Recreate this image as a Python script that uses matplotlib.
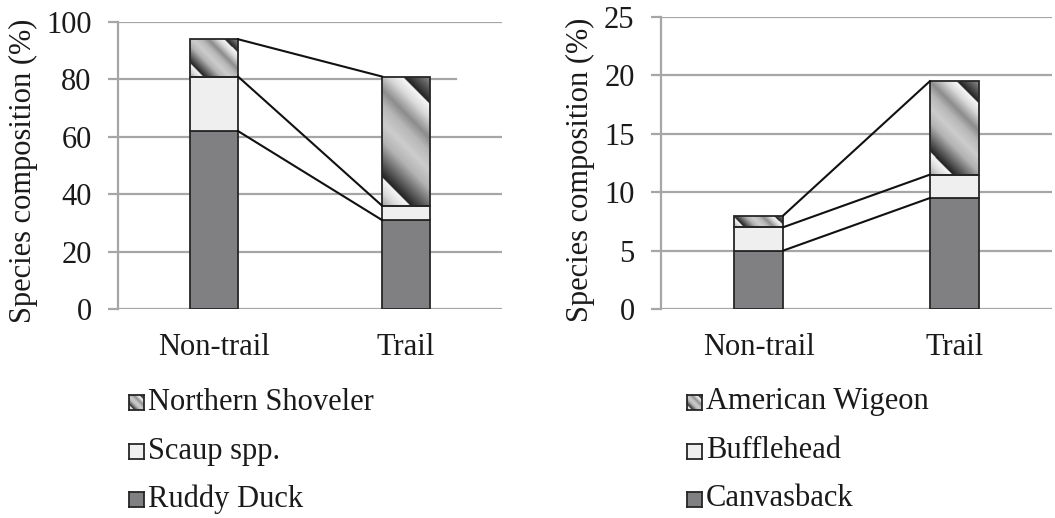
import numpy as np
import matplotlib.pyplot as plt
from matplotlib.patches import Rectangle

plt.rcParams['font.family'] = ['Liberation Serif', 'DejaVu Serif']

# --- dados ---
groups = ['Non-trail', 'Trail']

# painel esquerdo
ruddy_duck = [62, 31]
scaup = [19, 5]
northern_shoveler = [13, 45]

# painel direito
canvasback = [5, 9.5]
bufflehead = [2, 2]
american_wigeon = [1, 8]

left_names = ['Northern Shoveler', 'Scaup spp.', 'Ruddy Duck']
right_names = ['American Wigeon', 'Bufflehead', 'Canvasback']

# --- estilo ---
W, H, DPI = 1055, 518, 100
dark_fill = '#808083'
light_fill = '#efefef'
edge = '#262626'
grid_col = '#a6a6a6'
fs = 22
bar_w = 0.25


def stripe_gray(t):
    # perfil de um período do degradê (começa escuro logo após o salto)
    ts = [0.0, 0.12, 0.3, 0.45, 0.6, 0.72, 0.88, 1.0]
    gs = [0.12, 0.35, 0.7, 0.8, 0.72, 0.55, 0.85, 0.97]
    return np.interp(t, ts, gs)


def stripe_array(w_px, h_px, jump=0.16, period=0.685):
    nx = max(int(w_px * 2), 4)
    ny = max(int(h_px * 2), 4)
    u = np.linspace(0, 1, nx)[None, :]
    v = np.linspace(0, 1, ny)[:, None]
    p = (u * w_px + v * h_px) / (w_px + h_px)
    t = np.mod((p - jump) / period, 1.0)
    return stripe_gray(t)


fig = plt.figure(figsize=(W / DPI, H / DPI), dpi=DPI)


def px_axes(x0, x1, ytop, ybot):
    return fig.add_axes([x0 / W, 1 - ybot / H, (x1 - x0) / W, (ybot - ytop) / H])


def stacked_panel(ax, bottom_vals, mid_vals, top_vals, ymax, ystep, short_grid=None):
    x = np.arange(len(groups))
    ax.set_xlim(-0.5, 1.5)
    ax.set_ylim(0, ymax)

    # linhas de grade horizontais
    for yv in np.arange(0, ymax + ystep / 2, ystep):
        xmax = 1.0
        if short_grid is not None and yv == short_grid[0]:
            xmax = short_grid[1]
        ax.axhline(yv, 0, xmax, color=grid_col, lw=1.6, zorder=0)

    b1 = np.array(bottom_vals, dtype=float)
    b2 = b1 + np.array(mid_vals)
    b3 = b2 + np.array(top_vals)

    ax.bar(x, bottom_vals, bar_w, color=dark_fill, edgecolor=edge, lw=1.3, zorder=3)
    ax.bar(x, mid_vals, bar_w, bottom=b1, color=light_fill, edgecolor=edge, lw=1.3, zorder=3)
    tops = ax.bar(x, top_vals, bar_w, bottom=b2, facecolor='none', edgecolor=edge,
                  lw=1.3, zorder=4)

    # preenchimento em degradê do segmento superior
    for rect in tops:
        x0, y0 = rect.get_x(), rect.get_y()
        x1, y1 = x0 + rect.get_width(), y0 + rect.get_height()
        (px0, py0), (px1, py1) = ax.transData.transform([(x0, y0), (x1, y1)])
        arr = stripe_array(px1 - px0, py1 - py0)
        clip = Rectangle((x0, y0), x1 - x0, y1 - y0, transform=ax.transData)
        im = ax.imshow(arr, extent=(x0, x1, y0, y1), origin='lower', cmap='gray',
                       vmin=0, vmax=1, aspect='auto', interpolation='bilinear', zorder=2)
        im.set_clip_path(clip)

    # linhas de ligação entre as colunas
    for level in (b1, b2, b3):
        ax.plot([x[0] + bar_w / 2, x[1] - bar_w / 2], [level[0], level[1]],
                color='#111111', lw=1.5, zorder=5)

    ax.set_xlim(-0.5, 1.5)
    ax.set_ylim(0, ymax)
    ax.set_yticks(np.arange(0, ymax + ystep / 2, ystep))
    ax.set_yticklabels([f'{int(v)}' for v in np.arange(0, ymax + ystep / 2, ystep)])
    ax.set_xticks(x)
    ax.set_xticklabels(groups)
    for s in ('top', 'right', 'bottom'):
        ax.spines[s].set_visible(False)
    ax.spines['left'].set_color(grid_col)
    ax.spines['left'].set_linewidth(1.6)
    ax.tick_params(axis='y', length=7, width=1.6, color=grid_col, pad=12,
                   labelsize=fs, labelcolor='#1a1a1a', direction='out')
    ax.tick_params(axis='x', length=0, pad=17, labelsize=fs, labelcolor='#1a1a1a')
    ax.set_ylabel('Species composition (%)', fontsize=fs, color='#1a1a1a')


ax1 = px_axes(118, 502, 22, 309)
stacked_panel(ax1, ruddy_duck, scaup, northern_shoveler, 100, 20,
              short_grid=(80, (456 - 118) / 384))
ax1.yaxis.set_label_coords(-0.208, 0.48)

ax2 = px_axes(661, 1052, 17, 309)
stacked_panel(ax2, canvasback, bufflehead, american_wigeon, 25, 5)
ax2.yaxis.set_label_coords(-0.168, 0.475)


# --- legendas ---
def legend_block(names, mx, tx, rows):
    fills = ['stripe', light_fill, dark_fill]
    size = 15
    for name, fill, yc in zip(names, fills, rows):
        mk = fig.add_axes([mx / W, 1 - (yc + size / 2) / H, size / W, size / H])
        if fill == 'stripe':
            mk.imshow(stripe_array(size, size), extent=(0, 1, 0, 1), origin='lower',
                      cmap='gray', vmin=0, vmax=1, aspect='auto')
        else:
            mk.set_facecolor(fill)
        mk.set_xticks([])
        mk.set_yticks([])
        for s in mk.spines.values():
            s.set_color(edge)
            s.set_linewidth(1.3)
        fig.text(tx / W, 1 - yc / H, name, fontsize=fs, color='#1a1a1a',
                 ha='left', va='center')


legend_rows = [402, 451, 499]
legend_block(left_names, 129, 148, legend_rows)
legend_block(right_names, 687, 706, legend_rows)

fig.savefig('out.png', dpi=DPI)
